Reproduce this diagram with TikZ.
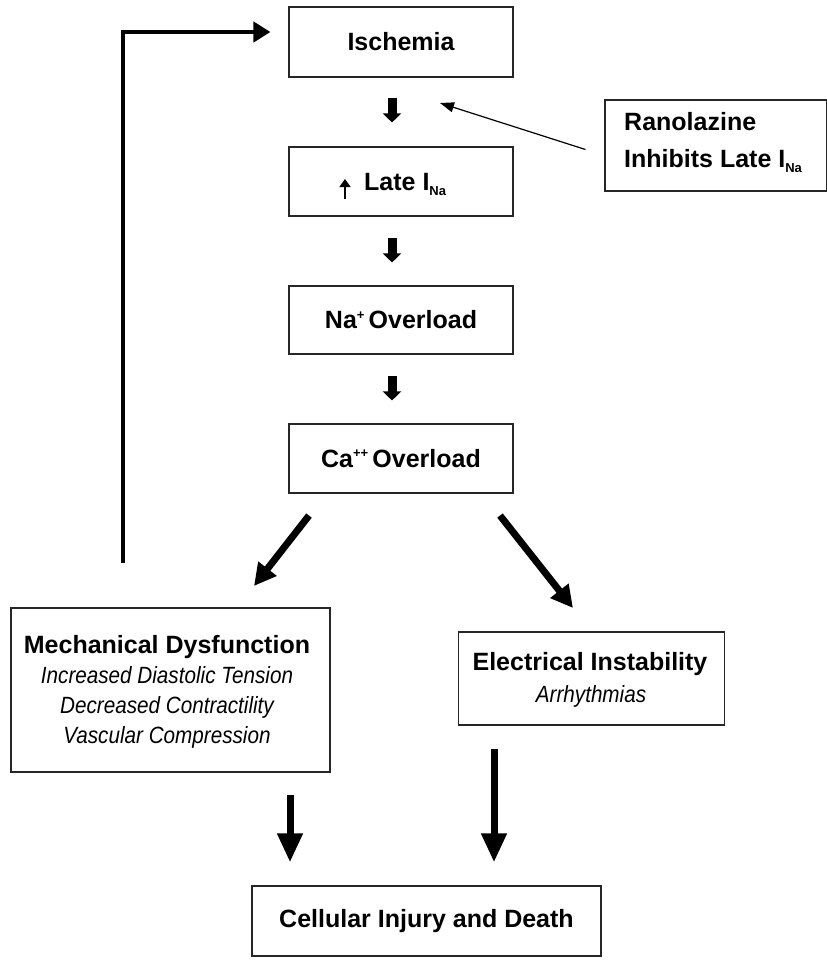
\documentclass[tikz,border=0pt]{standalone}
\usepackage{fontspec}
\setmainfont{Liberation Sans}
\newfontfamily\narrowit{Liberation Sans}[FakeStretch=0.88]
\usetikzlibrary{arrows.meta}
\tikzset{
  box/.style={draw=black!85, line width=1.1pt, fill=white, inner sep=0pt, align=center},
  lbl/.style={font=\fontsize{25}{30}\selectfont\bfseries},
  itl/.style={font=\narrowit\fontsize{23.5}{28}\selectfont\itshape, anchor=base},
  hd/.style={font=\fontsize{25}{30}\selectfont\bfseries, anchor=base},
  smallarr/.style={line width=9pt, -{Triangle[width=18pt,length=9pt]}},
  diagarr/.style={line width=7pt, -{Triangle[width=22pt,length=22pt]}},
  bigarr/.style={line width=7pt, -{Triangle[width=24pt,length=29pt]}},
  fbarr/.style={line width=4.5pt, -{Triangle[width=20pt,length=17pt]}},
  thinarr/.style={line width=1.2pt, -{Triangle[width=10pt,length=14pt]}}
}
\newcommand{\sbsc}[1]{\raisebox{-0.45ex}{\fontsize{13}{13}\selectfont #1}}
\newcommand{\spsc}[1]{\raisebox{0.75ex}{\fontsize{13}{13}\selectfont #1}}
\begin{document}
\begin{tikzpicture}[x=1pt,y=1pt]
\useasboundingbox (0,0) rectangle (827,-964);
% boxes
\node[box, lbl, minimum width=224pt, minimum height=70pt] (isch) at (401,-42) {Ischemia};
\node[box, minimum width=224pt, minimum height=69pt] (late) at (401,-181.5) {};
\node[lbl, anchor=base west, inner sep=0pt] (latetxt) at (364,-190) {Late I\sbsc{Na}};
\node[box, lbl, minimum width=224pt, minimum height=68pt] (na) at (401,-320) {Na\spsc{+}\,Overload};
\node[box, lbl, minimum width=224pt, minimum height=69pt] (ca) at (401,-458.5) {Ca\spsc{++}\,Overload};
\node[box, minimum width=222pt, minimum height=91pt] (ran) at (716,-145.5) {};
\node[lbl, anchor=base west, inner sep=0pt] (ran1) at (624,-130) {Ranolazine};
\node[lbl, anchor=base west, inner sep=0pt] (ran2) at (624,-167) {Inhibits Late I\sbsc{Na}};
\node[box, minimum width=319pt, minimum height=164pt] (mech) at (170.5,-690) {};
\node[hd] (mech1) at (167,-653) {Mechanical Dysfunction};
\node[itl] (mech2) at (167,-683) {Increased Diastolic Tension};
\node[itl] (mech3) at (167,-713) {Decreased Contractility};
\node[itl] (mech4) at (167,-743) {Vascular Compression};
\node[box, minimum width=266pt, minimum height=93pt] (elec) at (591.5,-678.5) {};
\node[hd] (elec1) at (590,-670) {Electrical Instability};
\node[itl] (elec2) at (591,-702) {Arrhythmias};
\node[box, lbl, minimum width=349pt, minimum height=70pt] (cell) at (426.5,-921) {Cellular Injury and Death};
% small up arrow inside late box
\coordinate (upb) at (345,-199);
\coordinate (upt) at (345,-179);
\draw[line width=1.5pt, -{Triangle[width=11pt,length=8pt]}] (upb) -- (upt);
% chain arrows
\draw[smallarr] ([xshift=-9pt,yshift=-20pt]isch.south) -- ([xshift=-9pt,yshift=24pt]late.north);
\draw[smallarr] ([xshift=-9pt,yshift=-21pt]late.south) -- ([xshift=-9pt,yshift=23pt]na.north);
\draw[smallarr] ([xshift=-9pt,yshift=-21pt]na.south) -- ([xshift=-9pt,yshift=23pt]ca.north);
% ranolazine arrow
\coordinate (rtip) at (440,-103);
\draw[thinarr] ([xshift=-19pt,yshift=-4pt]ran.west) -- (rtip);
% diagonal arrows
\coordinate (dl) at (254,-586);
\coordinate (dr) at (573,-608);
\draw[diagarr] ([xshift=-92pt,yshift=-22pt]ca.south) -- (dl);
\draw[diagarr] ([xshift=99pt,yshift=-22pt]ca.south) -- (dr);
% feedback arrow
\coordinate (fb) at (123,-563);
\draw[fbarr] (fb) |- ([xshift=-18pt,yshift=10pt]isch.west);
% bottom arrows
\draw[bigarr] ([xshift=119.5pt,yshift=-22pt]mech.south) -- ([xshift=-136.5pt,yshift=23pt]cell.north);
\draw[bigarr] ([xshift=-97.5pt,yshift=-23pt]elec.south) -- ([xshift=67.5pt,yshift=23pt]cell.north);
\end{tikzpicture}
\end{document}
